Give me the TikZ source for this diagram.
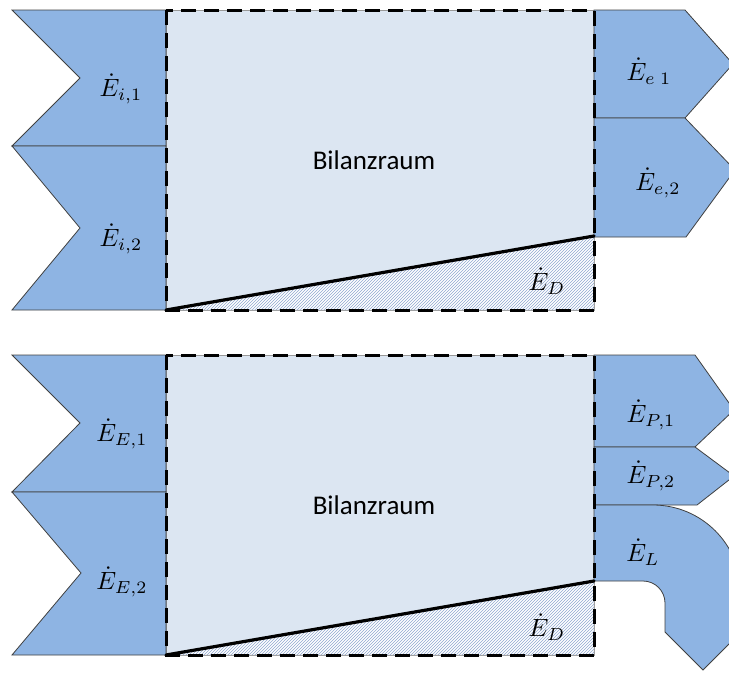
\documentclass[tikz,border=0pt]{standalone}
\usepackage{fontspec}
\usepackage{graphicx}
\setmainfont{Carlito}
\usetikzlibrary{patterns}
\definecolor{flow}{HTML}{8EB4E3}
\definecolor{room}{HTML}{DCE6F2}
\definecolor{hatchc}{HTML}{8FA8D0}
\newcommand{\mlab}[1]{\scalebox{2.5}{$#1$}}
\tikzset{
  flowshape/.style={fill=flow, draw=black!75, line width=0.8pt, line join=miter},
  roomfill/.style={fill=room, draw=black!40, line width=0.6pt},
  border/.style={draw=black, line width=3pt, dash pattern=on 15pt off 8pt},
  slope/.style={draw=black, line width=3.2pt, line cap=round},
  hatch/.style={fill=white, draw=black!40, line width=0.5pt},
  hatchp/.style={pattern=north east lines, pattern color=hatchc},
  mlabel/.style={inner sep=0pt},
  tlabel/.style={font=\fontsize{27}{32}\selectfont, inner sep=0pt}
}
\begin{document}
\begin{tikzpicture}[x=1pt,y=-1pt]
\useasboundingbox (0,0) rectangle (729,673);

% ===== top panel =====
\coordinate (r1a) at (166,10);
\coordinate (r1b) at (594,310);
\coordinate (d1a) at (166,310);
\coordinate (d1b) at (594,236);
\path[roomfill] (r1a) rectangle (r1b);
\path[hatch] (d1a) -- (d1b) -- (594,310) -- cycle;
\path[hatchp] (d1a) -- (d1b) -- (594,310) -- cycle;

\path[flowshape] (12,10) -- (166,10) -- (166,146) -- (12,146) -- (80,78) -- cycle;
\path[flowshape] (12,146) -- (166,146) -- (166,310) -- (12,310) -- (80,228) -- cycle;
\path[flowshape] (594,10) -- (685,10) -- (733,64) -- (685,118) -- (594,118) -- cycle;
\path[flowshape] (594,118) -- (685,118) -- (735,170) -- (686,237) -- (594,237) -- cycle;

\path[border] (r1a) rectangle (r1b);
\path[slope] (d1a) -- (d1b);

\node[mlabel] (ei1) at (121,89) {\mlab{\dot{E}_{i,1}}};
\node[mlabel] (ei2) at (121,239) {\mlab{\dot{E}_{i,2}}};
\node[mlabel] (ee1) at (649,71) {\mlab{\dot{E}_{e\;1}}};
\node[mlabel] (ee2) at (658,183) {\mlab{\dot{E}_{e,2}}};
\node[tlabel] (bil1) at (374,160) {Bilanzraum};
\node[mlabel] (ed1) at (547,281) {\mlab{\dot{E}_{D}}};

% ===== bottom panel =====
\coordinate (r2a) at (166,355);
\coordinate (r2b) at (594,655);
\coordinate (d2a) at (166,655);
\coordinate (d2b) at (594,581);
\path[roomfill] (r2a) rectangle (r2b);
\path[hatch] (d2a) -- (d2b) -- (594,655) -- cycle;
\path[hatchp] (d2a) -- (d2b) -- (594,655) -- cycle;

\path[flowshape] (12,355) -- (166,355) -- (166,492) -- (12,492) -- (80,423) -- cycle;
\path[flowshape] (12,492) -- (166,492) -- (166,655) -- (12,655) -- (81,573) -- cycle;
\path[flowshape] (594,355) -- (695,355) -- (734,410) -- (695,447) -- (594,447) -- cycle;
\path[flowshape] (594,447) -- (695,447) -- (734,476) -- (697,505) -- (594,505) -- cycle;
\path[flowshape] (594,505) -- (653,505)
   arc[start angle=90, end angle=0, radius=88pt]
   -- (741,632) -- (703,670) -- (665,632) -- (665,603)
   arc[start angle=0, end angle=90, radius=22pt]
   -- (594,581) -- cycle;

\path[border] (r2a) rectangle (r2b);
\path[slope] (d2a) -- (d2b);

\node[mlabel] (eE1) at (122,434) {\mlab{\dot{E}_{E,1}}};
\node[mlabel] (eE2) at (122,582) {\mlab{\dot{E}_{E,2}}};
\node[mlabel] (eP1) at (651,415) {\mlab{\dot{E}_{P,1}}};
\node[mlabel] (eP2) at (651,476) {\mlab{\dot{E}_{P,2}}};
\node[mlabel] (eL) at (643,552) {\mlab{\dot{E}_{L}}};
\node[tlabel] (bil2) at (374,505) {Bilanzraum};
\node[mlabel] (ed2) at (547,627) {\mlab{\dot{E}_{D}}};
\end{tikzpicture}
\end{document}
